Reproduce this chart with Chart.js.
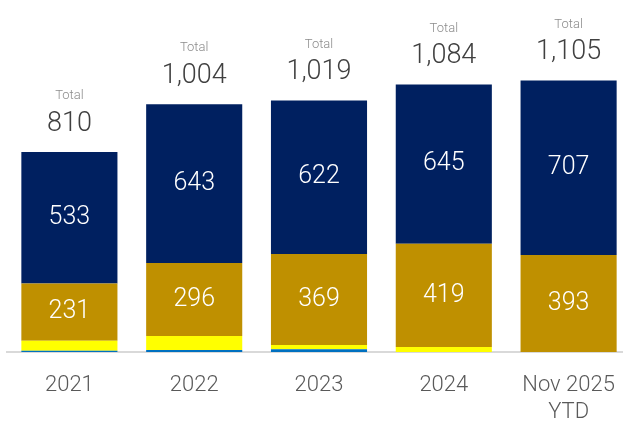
<!DOCTYPE html>
<html>
<head>
<meta charset="utf-8">
<script src="https://cdn.jsdelivr.net/npm/chart.js@4"></script>
<style>
  html, body { margin: 0; padding: 0; background: #fff; overflow: hidden; }
  #wrap { position: relative; width: 631px; height: 421px; }
</style>
</head>
<body>
<div id="wrap"><canvas id="stackChart"></canvas></div>
<script>
var categories = ["2021", "2022", "2023", "2024", ["Nov 2025", "YTD"]];
var navyValues = [533, 643, 622, 645, 707];
var goldValues = [231, 296, 369, 419, 393];
var yellowValues = [41, 57, 17, 20, 0];
var blueValues = [5, 8, 11, 0, 0];
var totals = [810, 1004, 1019, 1084, 1105];

var FONT = "Roboto, 'DejaVu Sans', sans-serif";

// segment labels, totals above each stack, category names under the axis
var labelPlugin = {
  id: "stackLabels",
  afterDatasetsDraw: function (chart) {
    var ctx = chart.ctx;
    ctx.save();
    ctx.textAlign = "center";
    ctx.textBaseline = "middle";

    chart.data.datasets.forEach(function (ds, di) {
      var meta = chart.getDatasetMeta(di);
      meta.data.forEach(function (bar, i) {
        var v = ds.data[i];
        if (v < 100) return;
        ctx.fillStyle = "#ffffff";
        ctx.font = "300 25px " + FONT;
        ctx.fillText(v.toLocaleString("en-US"), bar.x, (bar.y + bar.base) / 2);
      });
    });

    var topMeta = chart.getDatasetMeta(chart.data.datasets.length - 1);
    topMeta.data.forEach(function (bar, i) {
      ctx.fillStyle = "#8c8c8c";
      ctx.font = "300 13px " + FONT;
      ctx.fillText("Total", bar.x, bar.y - 56);
      ctx.fillStyle = "#404040";
      ctx.font = "300 27px " + FONT;
      ctx.fillText(totals[i].toLocaleString("en-US"), bar.x, bar.y - 28);
    });

    var xScale = chart.scales.x;
    var base = chart.chartArea.bottom;
    ctx.fillStyle = "#595959";
    ctx.font = "300 22px " + FONT;
    categories.forEach(function (cat, i) {
      var x = xScale.getPixelForValue(i);
      var lines = Array.isArray(cat) ? cat : [cat];
      lines.forEach(function (line, li) {
        ctx.fillText(line, x, base + 33 + li * 27);
      });
    });
    ctx.restore();
  }
};

var ctx = document.getElementById("stackChart").getContext("2d");
var chart = new Chart(ctx, {
  type: "bar",
  data: {
    labels: categories,
    datasets: [
      { label: "Blue", data: blueValues, backgroundColor: "#0070c0" },
      { label: "Yellow", data: yellowValues, backgroundColor: "#ffff00" },
      { label: "Gold", data: goldValues, backgroundColor: "#bf9000" },
      { label: "Navy", data: navyValues, backgroundColor: "#002060" }
    ]
  },
  options: {
    responsive: true,
    maintainAspectRatio: false,
    animation: false,
    datasets: {
      bar: {
        barPercentage: 0.77,
        categoryPercentage: 1,
        borderWidth: 0
      }
    },
    layout: { padding: { left: 7, right: 0, top: 0, bottom: 69 } },
    plugins: {
      legend: { display: false },
      tooltip: { enabled: false }
    },
    scales: {
      x: {
        stacked: true,
        ticks: { display: false },
        grid: { display: false, drawTicks: false },
        border: { display: true, color: "#d9d9d9", width: 2 }
      },
      y: {
        stacked: true,
        display: false,
        min: 0,
        max: 1426
      }
    }
  },
  plugins: [labelPlugin]
});
</script>
</body>
</html>
